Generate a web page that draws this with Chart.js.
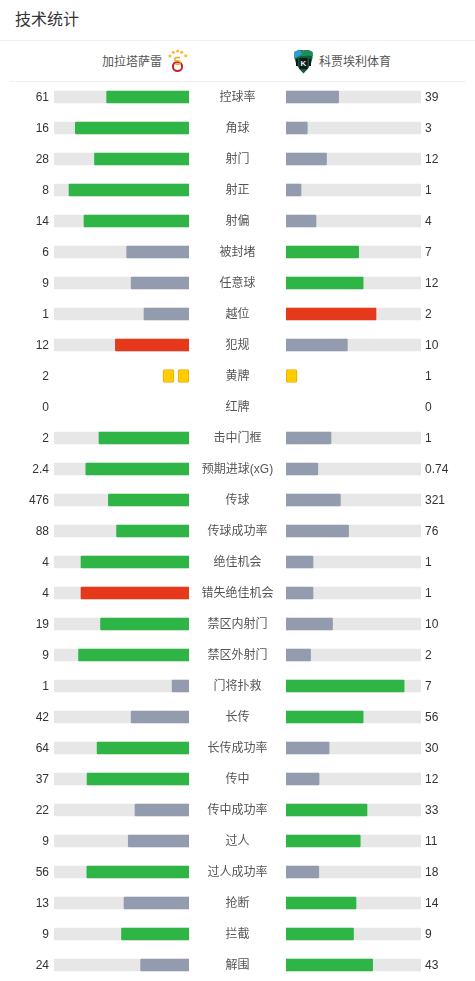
<!DOCTYPE html>
<html><head><meta charset="utf-8">
<script src="https://cdn.jsdelivr.net/npm/chart.js@4"></script>
<style>
html,body{margin:0;padding:0;background:#fff;width:475px;height:981px;overflow:hidden;font-family:"Liberation Sans","Noto Sans CJK SC",sans-serif}
.abs{position:absolute}
#title{left:15px;top:9px;font-size:16px;line-height:22px;color:#333}
.team{top:53px;font-size:12px;line-height:18px;color:#555;white-space:nowrap}
.rule{height:1px;background:#f0f0f0}
canvas{position:absolute;display:block}
</style></head><body>
<div class="abs" id="title">技术统计</div>
<div class="abs rule" style="left:0;top:40px;width:475px"></div>
<div class="abs team" style="left:102px" id="homeName"></div>
<div class="abs team" style="left:319px" id="awayName"></div>
<div class="abs rule" style="left:10px;top:81px;width:456px"></div>
<svg class="abs" style="left:166px;top:49px" width="24" height="26" viewBox="0 0 24 26">
  <g fill="#f5b92a"><circle cx="4" cy="7" r="1.500"/><circle cx="7.300" cy="3.300" r="1.500"/><circle cx="11.700" cy="2" r="1.500"/><circle cx="15.700" cy="3.300" r="1.500"/><circle cx="19.700" cy="6.700" r="1.500"/></g>
  <circle cx="11.500" cy="17.500" r="4.600" fill="none" stroke="#c8202f" stroke-width="2"/>
  <path d="M14 8.500h-3.500a1.700 1.700 0 0 0 0 3.400h2a1.700 1.700 0 0 1 0 3.400h-3" fill="none" stroke="#f2a41f" stroke-width="1.500"/>
</svg>
<svg class="abs" style="left:293px;top:49px" width="21" height="25" viewBox="0 0 21 25">
  <path d="M1.500 3 Q6 0 10.500 1.500 Q15 0 19.500 3 Q21 15 10.500 24.500 Q0 15 1.500 3Z" fill="#0d5f3d"/>
  <path d="M1.500 3 Q6 0 10.500 1.500 Q15 0 19.500 3 L19.700 7 Q10 6 1.300 9Z" fill="#1c8f57"/>
  <path d="M1.500 3 Q4 1.500 7 1.200 L9 5 L1.200 10Z" fill="#2b9fd6"/>
  <path d="M3 10h2v7h-2zM16 10h2v7h-2z" fill="#14181b"/>
  <rect x="6.500" y="9" width="8" height="11" fill="#14181b"/>
  <text x="10.500" y="17" font-size="8" font-weight="bold" text-anchor="middle" fill="#e8f2ee" font-family="Liberation Sans">K</text>
</svg>
<canvas id="left" class="abs" style="left:0;top:81px" width="189" height="900"></canvas>
<canvas id="right" class="abs" style="left:189px;top:81px" width="286" height="900"></canvas>
<script>
const homeTeam = "加拉塔萨雷";
const awayTeam = "科贾埃利体育";
const categories = ["控球率","角球","射门","射正","射偏","被封堵","任意球","越位","犯规","黄牌","红牌","击中门框","预期进球(xG)","传球","传球成功率","绝佳机会","错失绝佳机会","禁区内射门","禁区外射门","门将扑救","长传","长传成功率","传中","传中成功率","过人","过人成功率","抢断","拦截","解围"];
const homeValues = [61,16,28,8,14,6,9,1,12,2,0,2,2.4,476,88,4,4,19,9,1,42,64,37,22,9,56,13,9,24];
const awayValues = [39,3,12,1,4,7,12,2,10,1,0,1,0.74,321,76,1,1,10,2,7,56,30,12,33,11,18,14,9,43];
const homeStyle = ["g","g","g","g","g","s","s","s","r","n","n","g","g","g","g","g","r","g","g","s","s","g","g","s","s","g","s","g","s"];
const awayStyle = ["s","s","s","s","s","g","g","r","s","n","n","s","s","s","s","s","s","s","s","g","g","s","s","g","g","s","g","g","g"];
const cardRows = ["黄牌"];
const homeCards = [2];
const awayCards = [1];
const noBarRows = ["黄牌","红牌"];

const COLORS = {g:"#2fb546", s:"#939bae", r:"#e6391c", n:"rgba(0,0,0,0)"};
const TRACK = "#e7e7e7";
const CARD_W = 100*11/135, CARD_STEP = 100*15/135;

document.getElementById("homeName").textContent = homeTeam;
document.getElementById("awayName").textContent = awayTeam;

function shares(own, other){
  return own.map((v,i)=>{
    const t = v + other[i];
    return noBarRows.includes(categories[i]) || t===0 ? null : 100*v/t;
  });
}
function cardSet(cards, k){
  return {
    data: categories.map(c=>{
      const r = cardRows.indexOf(c);
      return r>=0 && cards[r]>k ? [k*CARD_STEP, k*CARD_STEP+CARD_W] : null;
    }),
    backgroundColor:"#ffcc00", borderColor:"#e6ac00", borderWidth:1, borderRadius:2,
    barThickness:13, grouped:false, order:0, borderSkipped:false
  };
}
function fixed(w){ return s=>{ s.width = w; s.paddingTop = 0; s.paddingBottom = 0; }; }
function datasets(own, other, style, cards){
  return [
    {data:shares(own,other), backgroundColor:style.map(k=>COLORS[k]), barThickness:12, borderRadius:1, borderSkipped:false, grouped:false, order:1},
    {data:categories.map(c=>noBarRows.includes(c)?null:100), backgroundColor:TRACK, barThickness:12, grouped:false, order:2},
    cardSet(cards,0), cardSet(cards,1)
  ];
}
Chart.defaults.font.family = '"Liberation Sans","Noto Sans CJK SC",sans-serif';
Chart.defaults.font.size = 12;
const common = {
  indexAxis:"y", responsive:false, animation:false, devicePixelRatio:1,
  layout:{autoPadding:false,padding:{top:0.5,bottom:0.5,left:0,right:0}},
  plugins:{legend:{display:false},tooltip:{enabled:false}}
};
const xAxis = reverse => ({type:"linear",min:0,max:100,reverse,display:false});
const noGrid = {display:false,drawTicks:false};

new Chart(document.getElementById("left"),{
  type:"bar",
  data:{labels:categories,datasets:datasets(homeValues,awayValues,homeStyle,homeCards)},
  options:{...common,scales:{
    x:xAxis(true),
    y:{position:"left",afterFit:fixed(54),grid:noGrid,border:{display:false},
       ticks:{autoSkip:false,padding:5,labelOffset:1,color:"#333",callback:(v,i)=>String(homeValues[i])}}
  }}
});
new Chart(document.getElementById("right"),{
  type:"bar",
  data:{labels:categories,datasets:datasets(awayValues,homeValues,awayStyle,awayCards)},
  options:{...common,scales:{
    x:xAxis(false),
    y:{position:"left",afterFit:fixed(97),grid:noGrid,border:{display:false},
       ticks:{autoSkip:false,padding:12.5,labelOffset:1,crossAlign:"center",color:"#555",callback:(v,i)=>categories[i]}},
    y2:{position:"right",type:"category",labels:awayValues.map(String),afterFit:fixed(54),grid:noGrid,border:{display:false},
       ticks:{autoSkip:false,padding:4,labelOffset:1,color:"#333",crossAlign:"near"}}
  }}
});
</script>
</body></html>
